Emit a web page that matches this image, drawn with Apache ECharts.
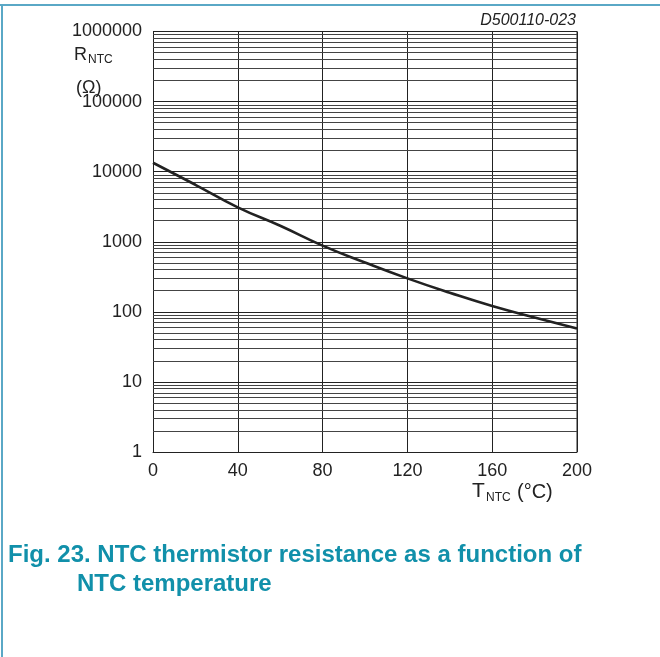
<!DOCTYPE html>
<html><head><meta charset="utf-8">
<script src="https://cdn.jsdelivr.net/npm/echarts@6/dist/echarts.min.js"></script>
<style>html,body{margin:0;padding:0;background:#fff}#c{width:660px;height:657px}</style>
</head><body><div id="c"></div>
<script>
// Data
const temperatures = [0, 20, 40, 60, 80, 100, 120, 140, 160, 180, 200];
const resistances = [13400, 6500, 3100, 1690, 880, 505, 300, 187, 121, 83, 58];
const xTicks = [0, 40, 80, 120, 160, 200];
const decades = [1, 10, 100, 1000, 10000, 100000, 1000000];
const minorFactors = [2, 3, 4, 5, 6, 7, 8, 9];

const minorLines = [];
decades.slice(0, -1).forEach(d => minorFactors.forEach(f => minorLines.push({ yAxis: d * f })));

const chart = echarts.init(document.getElementById('c'));
const fam = 'Liberation Sans';
const teal = '#1190aa';
function txt(x, y, text, size, opts) {
  return { type: 'text', x: x, y: y, style: Object.assign({ text: text, fontSize: size, fontFamily: fam,
    fill: '#222', align: 'left', verticalAlign: 'top' }, opts || {}) };
}
chart.setOption({
  animation: false,
  grid: { left: 153, right: 83, top: 31.5, bottom: 205, containLabel: false },
  xAxis: {
    type: 'value', min: 0, max: 200, interval: 40,
    axisLine: { show: true, lineStyle: { color: '#222', width: 1 } },
    axisTick: { show: false },
    axisLabel: { color: '#222', fontSize: 18, fontFamily: fam, margin: 10 },
    splitLine: { show: true, lineStyle: { color: '#222', width: 1 } }
  },
  yAxis: {
    type: 'log', logBase: 10, min: 1, max: 1000000, interval: 1,
    axisLine: { show: true, lineStyle: { color: '#222', width: 1 } },
    axisTick: { show: false },
    axisLabel: { color: '#222', fontSize: 18, fontFamily: fam, margin: 11,
      formatter: v => String(Math.round(v)) },
    splitLine: { show: true, lineStyle: { color: '#222', width: 1 } }
  },
  graphic: [
    { type: 'line', shape: { x1: 0, y1: 5, x2: 660, y2: 5 }, style: { stroke: '#5aa8c6', lineWidth: 2 } },
    { type: 'line', shape: { x1: 2, y1: 5, x2: 2, y2: 657 }, style: { stroke: '#5aa8c6', lineWidth: 2 } },
    { type: 'line', shape: { x1: 577, y1: 31.5, x2: 577, y2: 452 }, style: { stroke: '#222', lineWidth: 1 } },
    txt(576, 13, 'D500110-023', 16, { align: 'right', fontStyle: 'italic' }),
    txt(74, 46, 'R', 18),
    txt(88, 54, 'NTC', 12),
    txt(76, 79, '(\u03A9)', 18),
    txt(472, 481, 'T', 21),
    txt(486, 492, 'NTC', 12),
    txt(517, 482, '(\u00B0C)', 20),
    txt(8, 543, 'Fig. 23. NTC thermistor resistance as a function of', 24, { fill: teal, fontWeight: 'bold' }),
    txt(77, 572, 'NTC temperature', 24, { fill: teal, fontWeight: 'bold' })
  ],
  series: [{
    type: 'line', smooth: true, symbol: 'none',
    data: temperatures.map((t, i) => [t, resistances[i]]),
    lineStyle: { color: '#222', width: 2.6 },
    z: 5,
    markLine: {
      silent: true, symbol: 'none', label: { show: false },
      lineStyle: { color: '#444', width: 1, type: 'solid' },
      data: minorLines
    }
  }]
});
</script></body></html>
